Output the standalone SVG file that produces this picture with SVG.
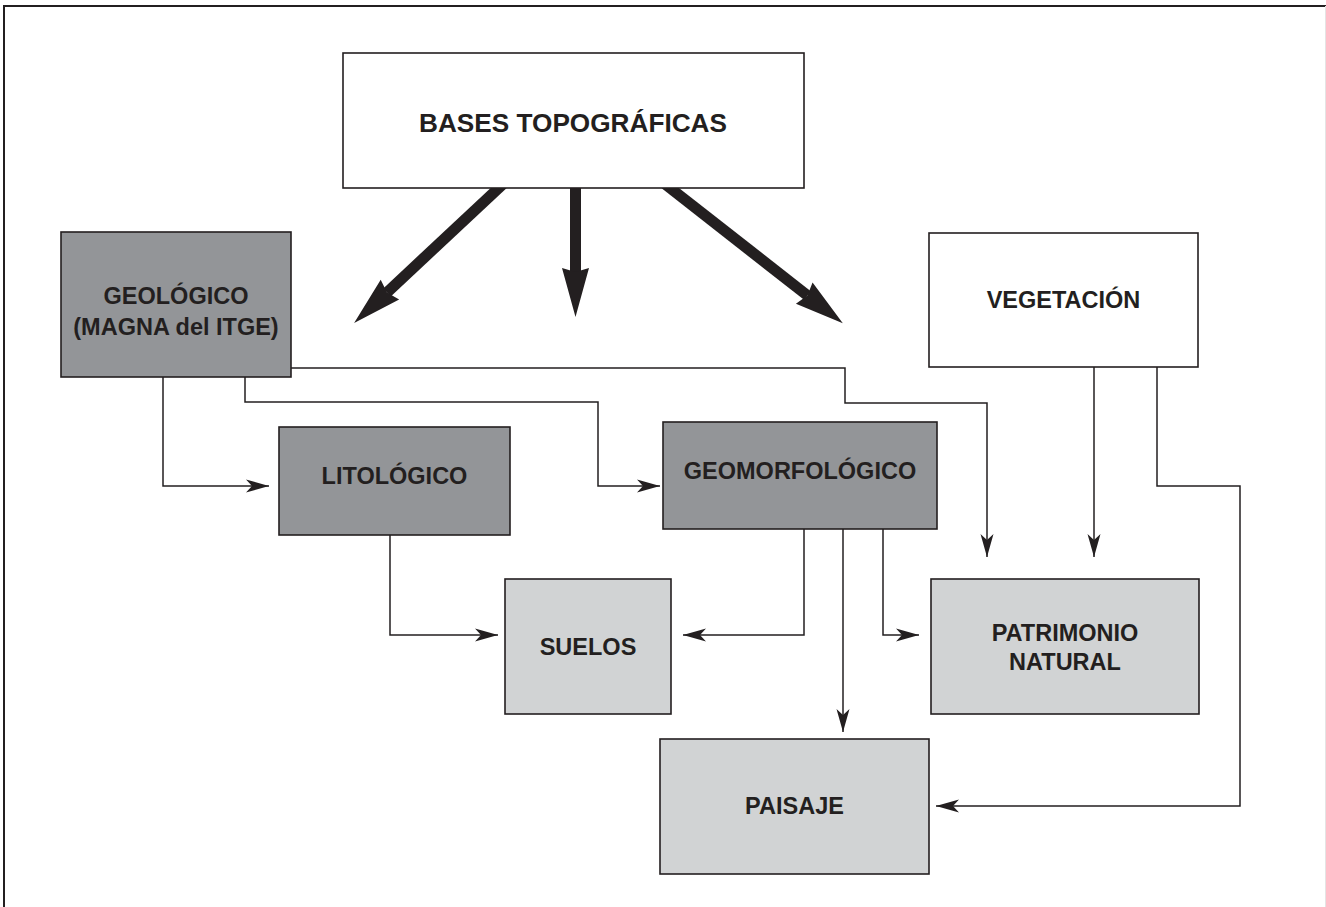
<svg xmlns="http://www.w3.org/2000/svg" width="1326" height="907" viewBox="0 0 1326 907">
<style>
.box{stroke:#231f20;stroke-width:1.6}
.w{fill:#ffffff}
.d{fill:#939598}
.l{fill:#d1d3d4}
.t{font-family:"Liberation Sans",Arial,sans-serif;font-weight:bold;font-size:23.5px;fill:#231f20;text-anchor:middle}
.c{fill:none;stroke:#231f20;stroke-width:1.5}
.k{fill:none;stroke:#231f20;stroke-width:11}
</style>
<defs>
<marker id="a" markerUnits="userSpaceOnUse" markerWidth="30" markerHeight="20" viewBox="-25 -10 30 20" refX="0" refY="0" orient="auto">
<path d="M0,0 L-23,-6.5 L-17,0 L-23,6.5 Z" fill="#231f20"/>
</marker>
<marker id="b" markerUnits="userSpaceOnUse" markerWidth="60" markerHeight="34" viewBox="-8 -17 60 34" refX="0" refY="0" orient="auto">
<path d="M-4,-13.5 L45,0 L-4,13.5 L0,0 Z" fill="#231f20"/>
</marker>
</defs>
<rect x="0" y="0" width="1326" height="907" fill="#ffffff"/>
<path d="M4,907 L4,6 L1326,6" fill="none" stroke="#231f20" stroke-width="2"/>
<line x1="1325.5" y1="6" x2="1325.5" y2="907" stroke="#e4e4e4" stroke-width="1"/>
<g id="connectors">
<line class="k" x1="503" y1="184" x2="387" y2="292.4" marker-end="url(#b)"/>
<line class="k" x1="575.5" y1="184" x2="575.5" y2="272" marker-end="url(#b)"/>
<line class="k" x1="665" y1="184" x2="807.4" y2="295.5" marker-end="url(#b)"/>
<polyline class="c" points="163,377 163,486 269,486" marker-end="url(#a)"/>
<polyline class="c" points="245,377 245,402 598,402 598,486 660,486" marker-end="url(#a)"/>
<polyline class="c" points="291,368 845,368 845,403 987,403 987,557" marker-end="url(#a)"/>
<polyline class="c" points="1094,367 1094,557" marker-end="url(#a)"/>
<polyline class="c" points="1157,367 1157,486 1240,486 1240,806 936,806" marker-end="url(#a)"/>
<polyline class="c" points="390,535 390,635 498,635" marker-end="url(#a)"/>
<polyline class="c" points="804,529 804,635 683,635" marker-end="url(#a)"/>
<polyline class="c" points="843,529 843,732" marker-end="url(#a)"/>
<polyline class="c" points="883,529 883,635 919,635" marker-end="url(#a)"/>
</g>
<g id="bases">
<rect class="box w" x="343" y="53" width="461" height="135"/>
<text class="t" x="573" y="132" style="font-size:26.2px">BASES TOPOGRÁFICAS</text>
</g>
<g id="geologico">
<rect class="box d" x="61" y="232" width="230" height="145"/>
<text class="t" x="176" y="304">GEOLÓGICO</text>
<text class="t" x="176" y="335">(MAGNA del ITGE)</text>
</g>
<g id="vegetacion">
<rect class="box w" x="929" y="233" width="269" height="134"/>
<text class="t" x="1063.5" y="308">VEGETACIÓN</text>
</g>
<g id="litologico">
<rect class="box d" x="279" y="427" width="231" height="108"/>
<text class="t" x="394.5" y="484">LITOLÓGICO</text>
</g>
<g id="geomorfologico">
<rect class="box d" x="663" y="422" width="274" height="107"/>
<text class="t" x="800" y="479">GEOMORFOLÓGICO</text>
</g>
<g id="suelos">
<rect class="box l" x="505" y="579" width="166" height="135"/>
<text class="t" x="588" y="655">SUELOS</text>
</g>
<g id="patrimonio">
<rect class="box l" x="931" y="579" width="268" height="135"/>
<text class="t" x="1065" y="641">PATRIMONIO</text>
<text class="t" x="1065" y="670">NATURAL</text>
</g>
<g id="paisaje">
<rect class="box l" x="660" y="739" width="269" height="135"/>
<text class="t" x="794.5" y="814">PAISAJE</text>
</g>
</svg>
